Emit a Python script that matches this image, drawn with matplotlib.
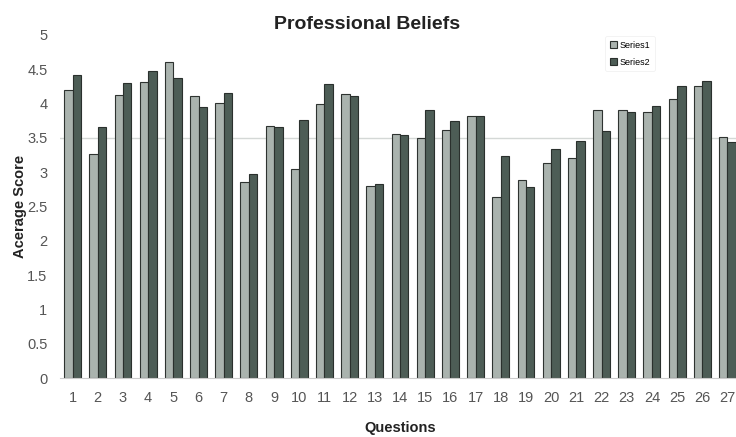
import numpy as np
from matplotlib import pyplot as plt

plt.rcParams['font.family'] = ['Liberation Sans', 'DejaVu Sans']

questions = list(range(1, 28))
series1 = [4.20, 3.27, 4.13, 4.31, 4.60, 4.11, 4.01, 2.85, 3.68, 3.05,
           3.99, 4.14, 2.80, 3.56, 3.50, 3.62, 3.82, 2.64, 2.89, 3.13,
           3.21, 3.91, 3.91, 3.88, 4.07, 4.25, 3.52]
series2 = [4.42, 3.66, 4.30, 4.47, 4.37, 3.95, 4.15, 2.97, 3.66, 3.76,
           4.29, 4.11, 2.83, 3.54, 3.91, 3.74, 3.82, 3.24, 2.79, 3.34,
           3.46, 3.60, 3.88, 3.97, 4.25, 4.33, 3.44]
yticks = [0, 0.5, 1, 1.5, 2, 2.5, 3, 3.5, 4, 4.5, 5]

fig = plt.figure(figsize=(7.36, 4.37), dpi=100)
ax = fig.add_axes([0.0815, 0.135, 0.924, 0.785])

x = np.array(questions)
w = 0.335
ax.bar(x - w / 2, series1, w, color='#aab3ae', edgecolor='#2e3330',
       linewidth=0.8, label='Series1', zorder=2)
ax.bar(x + w / 2, series2, w, color='#4d5d56', edgecolor='#2a302d',
       linewidth=0.8, label='Series2', zorder=2)

ax.axhline(3.5, color='#d4d8d6', linewidth=1, zorder=1)

ax.set_xlim(0.5, 27.5)
ax.set_ylim(0, 5)
ax.set_xticks(x)
ax.set_xticklabels([str(q) for q in questions])
ax.set_yticks(yticks)
ax.set_yticklabels([f'{t:g}' for t in yticks])
ax.tick_params(axis='both', length=0, labelsize=10.5, colors='#555555', pad=9)

for side in ['left', 'right', 'top']:
    ax.spines[side].set_visible(False)
ax.spines['bottom'].set_color('#cccccc')

ax.set_ylabel('Acerage Score', fontsize=10.5, fontweight='bold', color='#222222', labelpad=0)
ax.set_xlabel('Questions', fontsize=10.5, fontweight='bold', color='#222222', labelpad=12)
fig.text(0.499, 0.945, 'Professional Beliefs', ha='center', va='center',
         fontsize=14, fontweight='bold', color='#222222')

leg = ax.legend(loc='upper left', bbox_to_anchor=(0.795, 1.01), fontsize=6.5,
                frameon=True, handlelength=0.8, handleheight=0.8,
                handletextpad=0.3, labelspacing=0.9, borderpad=0.5)
leg.get_frame().set_edgecolor('#eeeeee')
leg.get_frame().set_linewidth(0.6)

plt.savefig('out.png', dpi=100)
